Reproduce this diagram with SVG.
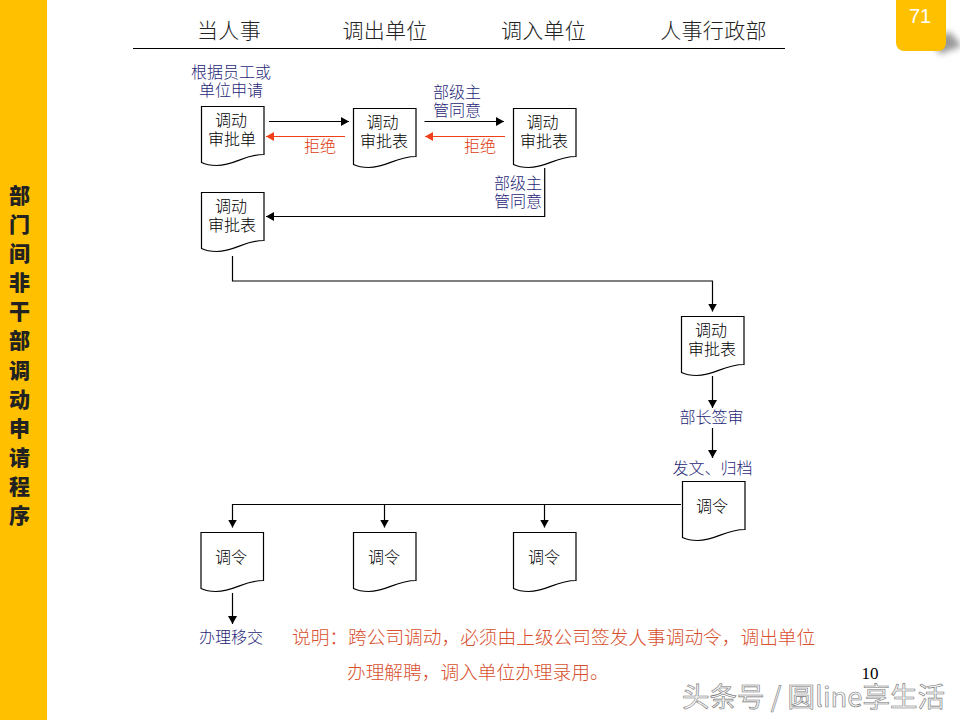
<svg xmlns="http://www.w3.org/2000/svg" xmlns:xlink="http://www.w3.org/1999/xlink" width="960" height="720" viewBox="0 0 960 720">
<style>
text{font-family:"Noto Sans CJK SC","Liberation Sans",sans-serif}
.n{font-size:16px;fill:#000;text-anchor:middle;font-weight:300}
.l{font-size:16px;fill:#1F1F78;text-anchor:middle;font-weight:300}
.r{font-size:16px;fill:#E03A10;text-anchor:middle;font-weight:300}
.h{font-size:21px;fill:#222;text-anchor:middle;font-weight:300;letter-spacing:.3px}
.s{font-size:21px;font-weight:900;fill:#222;text-anchor:middle}
.e{font-size:18.7px;fill:#D8502E;font-weight:300}
.d{fill:#fff;stroke:#000;stroke-width:1.2}
.c{fill:none;stroke:#000;stroke-width:1.2}
.cr{fill:none;stroke:#F0401A;stroke-width:1.2}
</style>
<defs>
<path id="doc" d="M0 0H62.5V48C42 48 34 59 15 59C9 59 4 58 0 56Z"/>
<marker id="a" markerUnits="userSpaceOnUse" markerWidth="9" markerHeight="10" refX="8" refY="5" orient="auto"><path d="M0 .5L8 5L0 9.5Z" fill="#000"/></marker>
<marker id="ar" markerUnits="userSpaceOnUse" markerWidth="9" markerHeight="10" refX="8" refY="5" orient="auto"><path d="M0 .5L8 5L0 9.5Z" fill="#F0401A"/></marker>
<filter id="b" x="-50%" y="-50%" width="200%" height="200%"><feGaussianBlur stdDeviation="3"/></filter>
</defs>
<rect width="960" height="720" fill="#fff"/>
<rect id="sidebar" x="0" y="0" width="47" height="720" fill="#FFC000"/>
<g id="sidebar-title">
<text class="s" x="19.5" y="203">部</text><text class="s" x="19.5" y="232">门</text><text class="s" x="19.5" y="261">间</text><text class="s" x="19.5" y="290">非</text><text class="s" x="19.5" y="319">干</text><text class="s" x="19.5" y="348">部</text><text class="s" x="19.5" y="378">调</text><text class="s" x="19.5" y="407">动</text><text class="s" x="19.5" y="436">申</text><text class="s" x="19.5" y="465">请</text><text class="s" x="19.5" y="494">程</text><text class="s" x="19.5" y="523">序</text>
</g>
<g id="page-tab">
<path d="M930 38L950 32L962 46L940 54Z" fill="#999" filter="url(#b)"/>
<rect x="896" y="-8" width="50" height="59" rx="8" fill="#FFC000"/>
<text x="920" y="23" font-size="20" style="font-family:'Liberation Sans',sans-serif;text-anchor:middle" fill="#fff">71</text>
</g>
<g id="header">
<text class="h" x="229" y="38">当人事</text><text class="h" x="385" y="38">调出单位</text><text class="h" x="543.5" y="38">调入单位</text><text class="h" x="713.5" y="38">人事行政部</text>
<path d="M133 48.5H785" stroke="#000" stroke-width="1.2" fill="none"/>
</g>
<g id="connectors">
<path class="c" d="M269 121.5H349" marker-end="url(#a)"/>
<path class="c" d="M424.5 121.5H504" marker-end="url(#a)"/>
<path class="cr" d="M345 136.5H266" marker-end="url(#ar)"/>
<path class="cr" d="M505 136.5H425" marker-end="url(#ar)"/>
<path class="c" d="M544.7 168V216.5H266" marker-end="url(#a)"/>
<path class="c" d="M232.5 256V281H712.5V311.5" marker-end="url(#a)"/>
<path class="c" d="M712.5 376V408" marker-end="url(#a)"/>
<path class="c" d="M712.5 428V458" marker-end="url(#a)"/>
<path class="c" d="M681 504.5H232.5V527.5" marker-end="url(#a)"/>
<path class="c" d="M384.5 504.5V527.5" marker-end="url(#a)"/>
<path class="c" d="M544.5 504.5V527.5" marker-end="url(#a)"/>
<path class="c" d="M232.5 593V624" marker-end="url(#a)"/>
</g>
<g id="node-a"><use xlink:href="#doc" href="#doc" class="d" x="201.5" y="106.5"/><text class="n"><tspan x="231" y="126">调动</tspan><tspan x="232" y="145">审批单</tspan></text></g>
<g id="node-b"><use xlink:href="#doc" href="#doc" class="d" x="353.5" y="108.5"/><text class="n"><tspan x="382.5" y="128">调动</tspan><tspan x="384" y="147">审批表</tspan></text></g>
<g id="node-c"><use xlink:href="#doc" href="#doc" class="d" x="513.5" y="108.5"/><text class="n"><tspan x="542.5" y="128">调动</tspan><tspan x="544" y="147">审批表</tspan></text></g>
<g id="node-d"><use xlink:href="#doc" href="#doc" class="d" x="201.5" y="192.5"/><text class="n"><tspan x="231" y="212">调动</tspan><tspan x="232" y="231">审批表</tspan></text></g>
<g id="node-e"><use xlink:href="#doc" href="#doc" class="d" x="681.5" y="316.5"/><text class="n"><tspan x="711" y="336">调动</tspan><tspan x="712" y="355">审批表</tspan></text></g>
<g id="node-f"><use xlink:href="#doc" href="#doc" class="d" x="682.5" y="481.5"/><text class="n" x="712" y="511.5">调令</text></g>
<g id="node-g"><use xlink:href="#doc" href="#doc" class="d" x="201" y="532.5"/><text class="n" x="231" y="562.5">调令</text></g>
<g id="node-h"><use xlink:href="#doc" href="#doc" class="d" x="353.5" y="532.5"/><text class="n" x="384" y="562.5">调令</text></g>
<g id="node-i"><use xlink:href="#doc" href="#doc" class="d" x="513.5" y="532.5"/><text class="n" x="544" y="562.5">调令</text></g>
<g id="labels">
<text class="l"><tspan x="231" y="78">根据员工或</tspan><tspan x="231" y="96">单位申请</tspan></text>
<text class="l"><tspan x="457" y="98">部级主</tspan><tspan x="457" y="116">管同意</tspan></text>
<text class="l"><tspan x="518" y="189">部级主</tspan><tspan x="518" y="207">管同意</tspan></text>
<text class="r" x="320" y="152">拒绝</text><text class="r" x="480" y="152">拒绝</text>
<text class="l" x="711.5" y="422.5">部长签审</text>
<text class="l" x="712.5" y="473.5">发文、归档</text>
<text class="l" x="231" y="642.5">办理移交</text>
</g>
<g id="note">
<text class="e" x="292" y="644">说明：跨公司调动，必须由上级公司签发人事调动令，调出单位</text>
<text class="e" x="347" y="679">办理解聘，调入单位办理录用。</text>
</g>
<text x="870" y="679" font-size="17" style="font-family:'Liberation Serif',serif;text-anchor:middle" fill="#000">10</text>
<text id="watermark" x="682" y="707" font-size="27.5" fill="#f4f4f4" stroke="#777" stroke-width=".6">头条号 / 圆line享生活</text>
</svg>
